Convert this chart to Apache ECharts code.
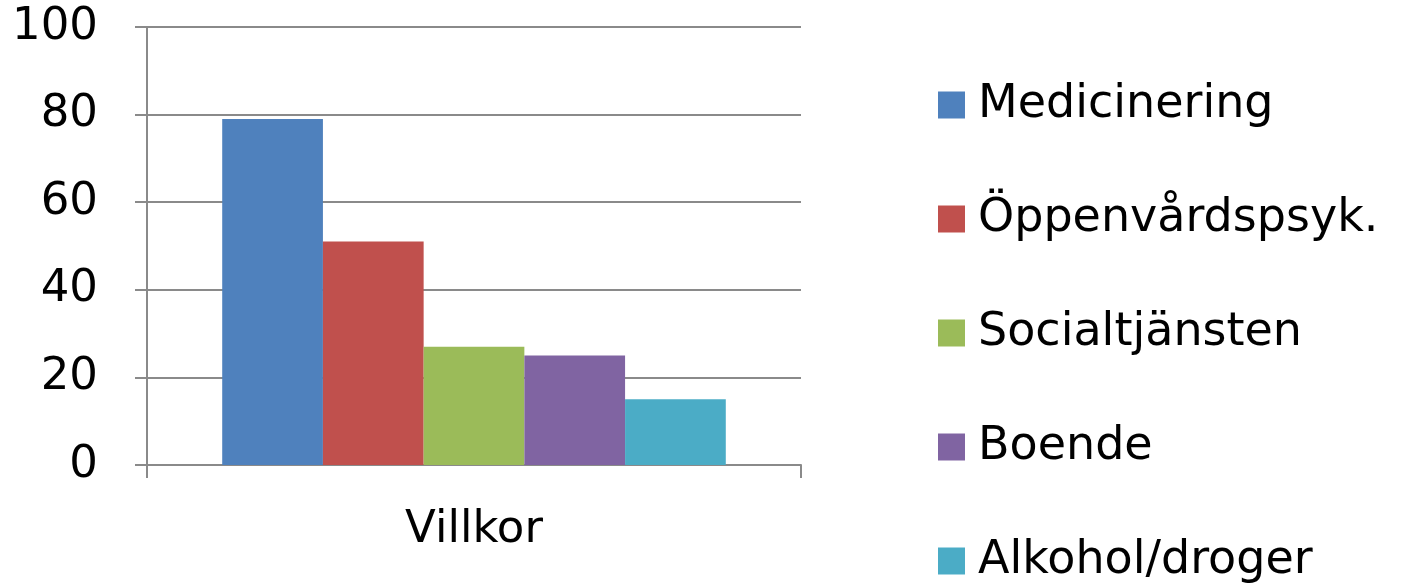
<!DOCTYPE html>
<html>
<head>
	<meta charset="UTF-8" />
	<title>Villkor</title>
	<style>
		html, body { margin: 0; padding: 0; background: #fff; }
		#chart { width: 1406px; height: 588px; }
	</style>
</head>
<body>
	<div id="chart"></div>
	<script type="text/javascript" src="https://cdn.jsdelivr.net/npm/echarts@6/dist/echarts.min.js"></script>
	<script type="text/javascript">
		// data
		const categories = ["Villkor"];
		const seriesNames = ["Medicinering", "Öppenvårdspsyk.", "Socialtjänsten", "Boende", "Alkohol/droger"];
		const seriesValues = [79, 51, 27, 25, 15];
		const colors = ["#4F81BD", "#C0504D", "#9BBB59", "#8064A2", "#4BACC6"];
		const yTicks = [0, 20, 40, 60, 80, 100];

		const chart = echarts.init(document.getElementById("chart"));
		const font = "DejaVu Sans";
		const axisGray = "#8a8a8a";

		chart.setOption({
			animation: false,
			color: colors,
			grid: { left: 147, right: 605, top: 27, bottom: 123 },
			legend: {
				orient: "vertical",
				left: 938,
				top: 82,
				padding: 0,
				icon: "rect",
				itemWidth: 27,
				itemHeight: 27,
				itemGap: 68,
				textStyle: { fontFamily: font, fontSize: 46, color: "#000", padding: [0, 0, 0, 8] },
				data: seriesNames
			},
			xAxis: {
				type: "category",
				data: categories,
				axisLine: { lineStyle: { color: axisGray, width: 2 } },
				axisTick: { show: true, length: 13, lineStyle: { color: axisGray, width: 2 } },
				axisLabel: { fontFamily: font, fontSize: 45, color: "#000", margin: 43 }
			},
			yAxis: {
				type: "value",
				min: yTicks[0],
				max: yTicks[yTicks.length - 1],
				interval: 20,
				axisLine: { show: true, lineStyle: { color: axisGray, width: 2 } },
				axisTick: { show: true, length: 12, lineStyle: { color: axisGray, width: 2 } },
				axisLabel: { fontFamily: font, fontSize: 45, color: "#000", margin: 49 },
				splitLine: { lineStyle: { color: axisGray, width: 2 } }
			},
			series: seriesNames.map((name, i) => ({
				name: name,
				type: "bar",
				data: [seriesValues[i]],
				barGap: "0%",
				barCategoryGap: "23%"
			}))
		});
	</script>
</body>
</html>
